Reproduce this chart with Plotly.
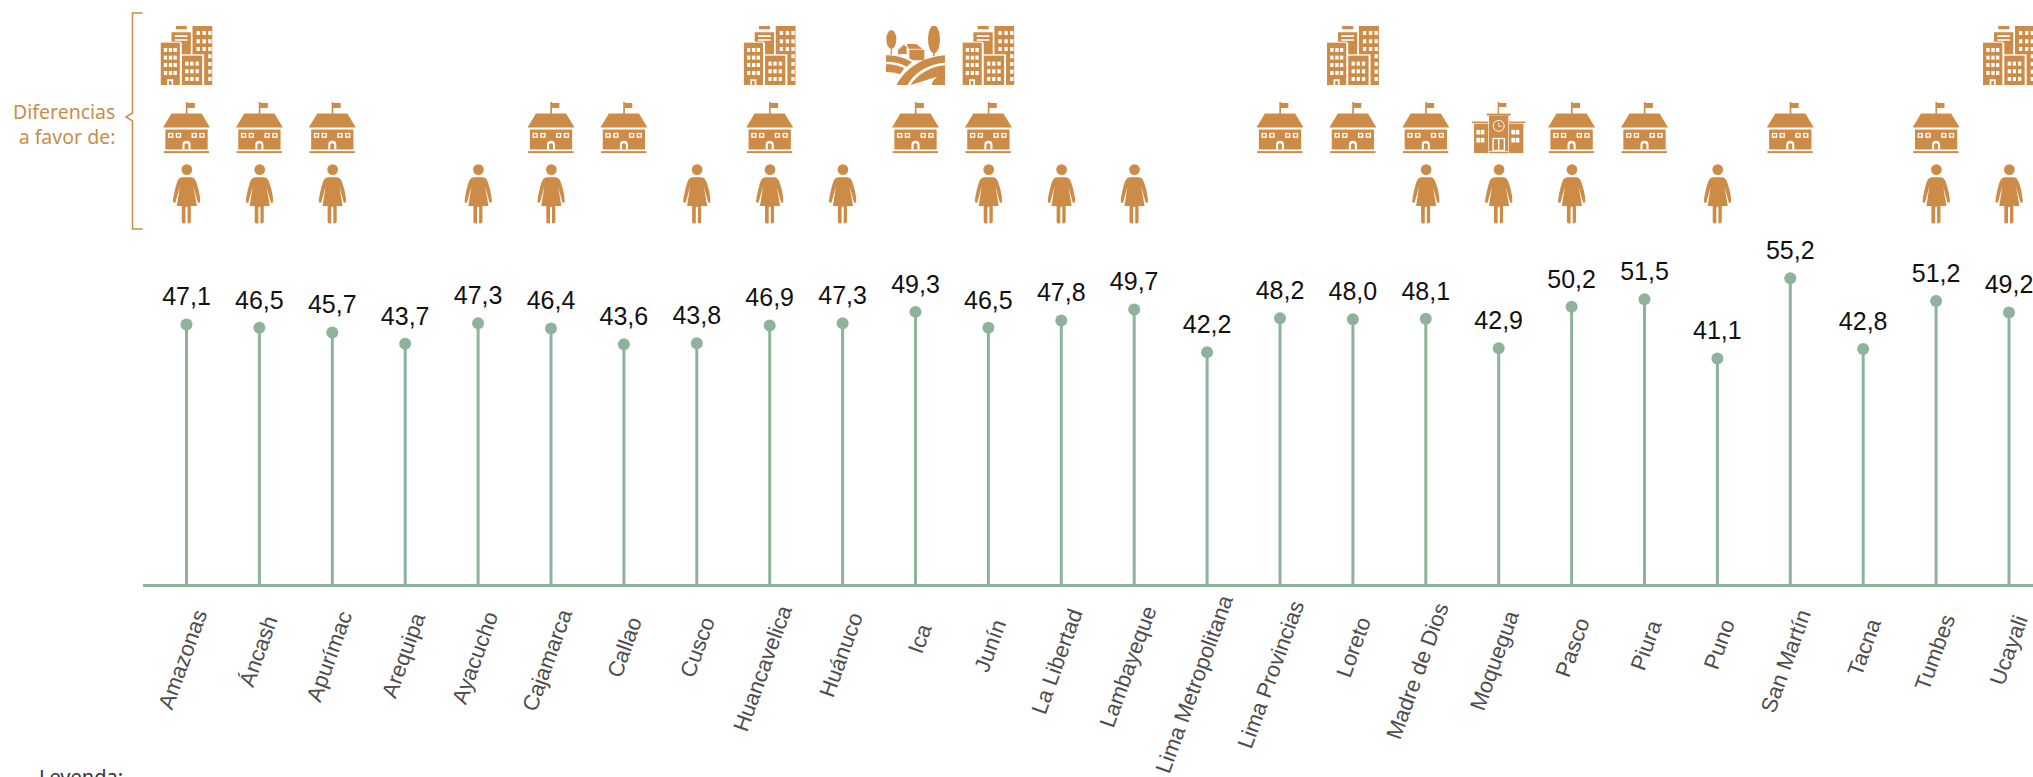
import base64
import plotly.graph_objects as go

regiones = ["Amazonas","Áncash","Apurímac","Arequipa","Ayacucho","Cajamarca","Callao","Cusco","Huancavelica","Huánuco","Ica","Junín","La Libertad","Lambayeque","Lima Metropolitana","Lima Provincias","Loreto","Madre de Dios","Moquegua","Pasco","Piura","Puno","San Martín","Tacna","Tumbes","Ucayali"]
valores = [47.1,46.5,45.7,43.7,47.3,46.4,43.6,43.8,46.9,47.3,49.3,46.5,47.8,49.7,42.2,48.2,48.0,48.1,42.9,50.2,51.5,41.1,55.2,42.8,51.2,49.2]

favor_urbano = ["Amazonas","Huancavelica","Junín","Loreto","Ucayali"]
favor_rural = ["Ica"]
favor_publica = ["Amazonas","Áncash","Apurímac","Cajamarca","Callao","Huancavelica","Ica","Junín","Lima Provincias","Loreto","Madre de Dios","Pasco","Piura","San Martín","Tumbes"]
favor_privada = ["Moquegua"]
favor_mujer = ["Amazonas","Áncash","Apurímac","Ayacucho","Cajamarca","Cusco","Huancavelica","Huánuco","Junín","La Libertad","Lambayeque","Madre de Dios","Moquegua","Pasco","Puno","Tumbes","Ucayali"]

ORO = "#CC8C47"
VERDE = "#8DB49B"
W, H = 2033, 777
BASE_PX = 584.2
LEFT_PX = 143
X0, DX = 186.5, 72.9
Y_ZERO_PX, PX_POR_UNIDAD = 593.0, 5.7
TICK_SIZE = 22

ANCHOS = {"A":.667,"Á":.667,"C":.722,"D":.722,"H":.722,"I":.278,"J":.5,"L":.556,"M":.833,"P":.667,"S":.667,"T":.611,"U":.722,
          "a":.556,"á":.556,"b":.556,"c":.5,"d":.556,"e":.556,"g":.556,"h":.556,"i":.222,"í":.278,"j":.222,"l":.222,"m":.833,"n":.556,
          "o":.556,"p":.556,"q":.556,"r":.333,"s":.5,"t":.278,"u":.556,"ú":.556,"v":.5,"y":.5,"z":.5," ":.278}

def rects(cols, rows, w, h, fill="#fff"):
    return "".join(f'<rect x="{c}" y="{r}" width="{w}" height="{h}" fill="{fill}"/>' for c in cols for r in rows)

def svg(w, h, body):
    s = f'<svg xmlns="http://www.w3.org/2000/svg" viewBox="0 0 {w} {h}" width="{w*2}" height="{h*2}">{body}</svg>'
    return "data:image/svg+xml;base64," + base64.b64encode(s.encode()).decode()

ciudad = svg(156, 177, f'<g fill="{ORO}">'
    '<rect x="96" y="0" width="60" height="177"/>'
    '<rect x="46" y="0" width="33" height="10"/>'
    '<path d="M33 19H91V87H64V50H33Z"/>'
    '</g>'
    '<path d="M43 28h38v5h-38zM43 40h38v4h-38z" fill="#fff"/>'
    f'<rect x="-3" y="47" width="64" height="133" fill="#fff"/><rect x="61" y="85" width="70" height="95" fill="#fff"/>'
    f'<rect x="0" y="50" width="58" height="127" fill="{ORO}"/><rect x="64" y="89" width="61" height="88" fill="{ORO}"/>'
    + rects([108,126,143],[15,40,63],10,12)
    + rects([143],[85,108,131,153],10,12)
    + rects([10,25,39],[66,89,111,135],10,12)
    + rects([74,89,105],[107,130,153],10,12)
    + '<path d="M20 177V160H38V177H33V165H25V177Z" fill="#fff"/>')

escuela = svg(140, 155, f'<g fill="{ORO}"><rect x="68" y="0" width="5" height="36"/><rect x="72" y="3" width="23" height="15"/>'
        '<path d="M0 77H140L115 35H25Z"/><rect x="7" y="83" width="126" height="60"/><rect x="2" y="148" width="135" height="6"/></g>'
        + rects([15,38,85,108],[93],16,15)
        + rects([19,42,89,112],[97],8,7,ORO)
        + '<path d="M58 143V129A12 12 0 0 1 82 129V143H76V130A6 6 0 0 0 64 130V143Z" fill="#fff"/>')

persona = svg(82, 183, f'<g fill="{ORO}"><circle cx="42" cy="17" r="16"/>'
    '<path d="M28 40H56Q65 41 70 54Q79 78 83 112Q81 118 75 116L62 68L72 126H54V172A6 6 0 0 1 46 178H44V130H38V178H36A6 6 0 0 1 27 172V126H12L21 68L8 116Q2 118 0 112Q5 78 13 54Q18 41 28 40Z"/></g>'
    '<rect x="40" y="128" width="3" height="50" fill="#fff"/>')

rural = svg(177, 177, f'<g fill="{ORO}">'
    '<ellipse cx="16" cy="40" rx="15" ry="28"/><rect x="14" y="60" width="4" height="26"/>'
    '<ellipse cx="144" cy="40" rx="18" ry="42"/><rect x="141" y="70" width="5" height="20"/>'
    '<path d="M36 85V72L53 56L62 62V85Z"/><path d="M62 54H90L115 72V103H82L70 98V72Z"/>'
    '<path d="M0 88C30 88 55 95 78 108L62 122C45 112 25 107 0 107Z"/>'
    '<path d="M0 115C25 115 42 120 55 127L42 145C30 140 15 138 0 138Z"/>'
    '<path d="M32 177C55 130 110 92 177 88V110C125 114 85 140 64 177Z"/>'
    '<path d="M74 177C92 148 130 122 177 118V177H137C140 160 155 148 177 145"/></g>'
    '<path d="M70 70L115 70" stroke="#fff" stroke-width="2.5" fill="none"/>'
    '<rect x="44" y="84" width="14" height="8" fill="#fff"/>')

colegio = svg(162, 155, f'<g fill="{ORO}"><rect x="78" y="0" width="4" height="36"/><rect x="81" y="3" width="23" height="12"/>'
    '<rect x="45" y="35" width="72" height="6"/><rect x="52" y="41" width="58" height="114"/>'
    '<rect x="0" y="59" width="50" height="5"/><rect x="112" y="59" width="50" height="5"/>'
    '<rect x="7" y="66" width="43" height="88"/><rect x="112" y="66" width="43" height="88"/></g>'
    '<circle cx="81" cy="72" r="18" fill="#fff"/>'
    f'<circle cx="81" cy="72" r="15" fill="{ORO}"/><path d="M81 62V73H90" stroke="#fff" stroke-width="2.5" fill="none"/>'
    + rects([14,27,119,132],[84,108],11,14)
    + '<rect x="62" y="108" width="38" height="40" fill="#fff"/>'
    + rects([66,83],[112],13,32,ORO)
    + '<rect x="52" y="148" width="58" height="2" fill="#fff"/>')

def py(p): return 1 - p / BASE_PX

images = []
def icono(src, nombres, w, top, bottom):
    for n in nombres:
        images.append(dict(source=src, xref="x", yref="paper", x=regiones.index(n), y=py(top),
                           sizex=w/DX, sizey=(bottom-top)/BASE_PX, xanchor="center", yanchor="top",
                           sizing="stretch", layer="above"))

icono(ciudad, favor_urbano, 52, 26, 85)
icono(rural, favor_rural, 59, 26, 85)
icono(escuela, favor_publica, 47, 102, 153.5)
icono(colegio, favor_privada, 54, 102, 153.5)
icono(persona, favor_mujer, 27.5, 164, 225)

y_min = (Y_ZERO_PX - BASE_PX) / PX_POR_UNIDAD
y_max = Y_ZERO_PX / PX_POR_UNIDAD

stem_x, stem_y = [], []
for i, v in enumerate(valores):
    stem_x += [i, i, None]
    stem_y += [y_min, v, None]

fig = go.Figure()
fig.add_trace(go.Scatter(x=stem_x, y=stem_y, mode="lines", line=dict(color=VERDE, width=3), hoverinfo="skip", cliponaxis=False))
fig.add_trace(go.Scatter(x=list(range(len(regiones))), y=valores, mode="markers", marker=dict(color=VERDE, size=12), cliponaxis=False))
fig.add_trace(go.Scatter(x=list(range(len(regiones))), y=valores, mode="markers+text",
    marker=dict(color=VERDE, size=19, opacity=0),
    text=[f"{v:.1f}".replace(".", ",") for v in valores], textposition="top center",
    textfont=dict(family="Liberation Sans", size=25, color="#111"), cliponaxis=False))

bx = lambda p: (p - LEFT_PX) / (W - LEFT_PX)
shapes = [dict(type="path", xref="paper", yref="paper", layer="above",
    path=f"M {bx(142.5)} {py(13)} L {bx(132.5)} {py(13)} L {bx(132.5)} {py(113)} L {bx(126)} {py(117)} L {bx(132.5)} {py(121)} L {bx(132.5)} {py(229)} L {bx(142.5)} {py(229)}",
    line=dict(color=ORO, width=1.5))]

annotations = [
    dict(text="Diferencias<br>a favor de:", xref="paper", yref="paper", x=bx(117), y=py(124.5), xanchor="right", yanchor="middle",
         align="right", showarrow=False, font=dict(family="Noto Sans", size=19.5, color=ORO)),
    dict(text="Leyenda:", xref="paper", yref="paper", x=bx(37), y=py(777), xanchor="left", yanchor="middle", showarrow=False,
         font=dict(family="Noto Sans", size=20, color="#333")),
]

# Region names: each is centred according to its drawn extent, as in the reference.
for i, nombre in enumerate(regiones):
    largo = sum(ANCHOS[c] for c in nombre) * TICK_SIZE
    alto = largo * 0.94 + 6
    annotations.append(dict(text=nombre, xref="x", yref="paper", x=i, y=py(628.5 + 0.303 * alto), xshift=8.2 - 0.115 * alto,
        xanchor="center", yanchor="middle", showarrow=False, textangle=-70, borderpad=0,
        font=dict(family="Liberation Sans", size=TICK_SIZE, color="#4D4D4D")))

fig.update_layout(width=W, height=H, autosize=False, showlegend=False, paper_bgcolor="white", plot_bgcolor="white",
    margin=dict(l=LEFT_PX, r=0, t=0, b=H-BASE_PX, pad=0), images=images, shapes=shapes, annotations=annotations,
    xaxis=dict(range=[(LEFT_PX-X0)/DX, (W-X0)/DX], showticklabels=False, showgrid=False, zeroline=False,
        showline=True, linecolor=VERDE, linewidth=3, ticks="", automargin=False),
    yaxis=dict(range=[y_min, y_max], visible=False, showgrid=False, zeroline=False, automargin=False))

fig.write_html("out.html", post_script="document.body.style.margin='0';document.body.style.overflow='hidden';", config=dict(displayModeBar=False))
